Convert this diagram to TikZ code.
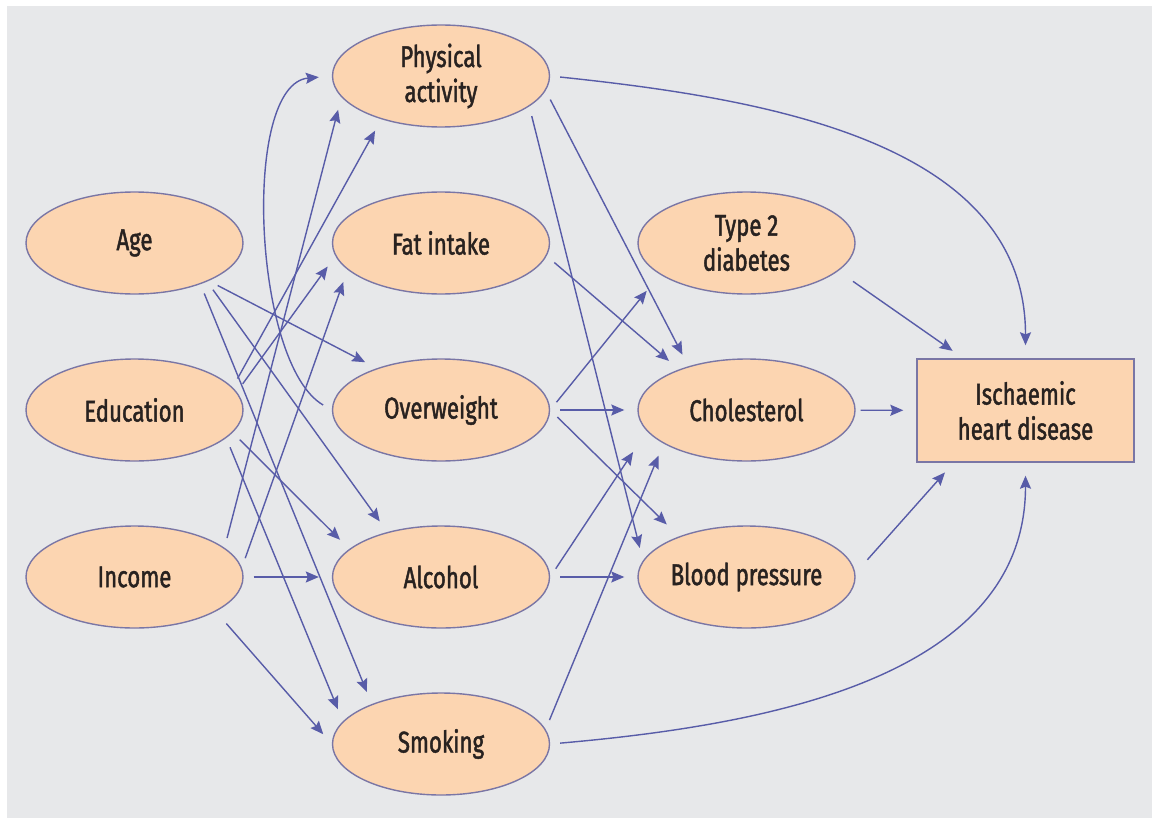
\documentclass[tikz,border=0pt]{standalone}
\usepackage{fontspec}
\setmainfont{Fira Sans}[FakeStretch=0.74, FakeBold=1.5]
\usepackage{tikz}
\usetikzlibrary{shapes.geometric, arrows.meta}
\definecolor{bg}{RGB}{231, 232, 234}
\definecolor{pc}{RGB}{252, 213, 177}
\definecolor{bc}{RGB}{122, 118, 165}
\definecolor{ac}{RGB}{88, 92, 168}
\definecolor{tc}{RGB}{40, 34, 32}

\begin{document}
\begin{tikzpicture}[
  factor/.style={ellipse, minimum width=217pt, minimum height=102pt, inner sep=0pt, fill=pc, draw=bc, line width=1.4pt, text=tc, align=center, font=\fontsize{30}{35}\selectfont},
  outcome/.style={rectangle, minimum width=217pt, minimum height=103pt, inner sep=0pt, fill=pc, draw=bc, line width=1.4pt, text=tc, align=center, font=\fontsize{30}{35}\selectfont},
  link/.style={draw=ac, line width=1.4pt, -{Stealth[length=13pt, width=11pt, inset=2pt]}, shorten >=13pt, shorten <=10pt}]
\useasboundingbox (0pt, 0pt) rectangle (1155pt, -821pt);
\fill [bg] (7pt, -6pt) rectangle (1152pt, -818pt);
\node (1) [factor] at (134.5pt, -243.0pt) {Age};
\node (2) [factor] at (134.5pt, -410.0pt) {Education};
\node (3) [factor] at (134.5pt, -577.0pt) {Income};
\node (4) [factor] at (441.0pt, -76.0pt) {Physical\\activity};
\node (5) [factor] at (441.0pt, -243.0pt) {Fat intake};
\node (6) [factor] at (441.0pt, -410.0pt) {Overweight};
\node (7) [factor] at (441.0pt, -577.0pt) {Alcohol};
\node (8) [factor] at (441.0pt, -744.0pt) {Smoking};
\node (9) [factor] at (746.5pt, -243.0pt) {Type 2\\diabetes};
\node (10) [factor] at (746.5pt, -410.0pt) {Cholesterol};
\node (11) [factor] at (746.5pt, -577.0pt) {Blood pressure};
\node (12) [outcome] at (1025.5pt, -410.5pt) {Ischaemic\\heart disease};
\draw [link] (1.-27) to (6.147);
\draw [link] (1.-28) to (7.140);
\draw [link] (1.-32) to (8.150);
\draw [link] (2.13) to (4.-144);
\draw [link] (2.10) to (5.-173);
\draw [link] (2.-13) to (7.163);
\draw [link] (2.-17) to (8.167);
\draw [link] (3.18) to (4.-168);
\draw [link] (3.5) to (5.-164);
\draw [link] (3) to (7);
\draw [link, shorten <=16pt] (3.-23) to (8.180);
\draw [link] (6.180) to [out=150, in=185, looseness=0.7] (4.180);
\draw [link] (4.0) to [out=-6, in=90] (12.north);
\draw [link] (4.-8) to (10.143);
\draw [link] (4.-19) to (11.171);
\draw [link] (5.-7) to (10.149);
\draw [link, shorten >=21pt] (6.east) to (9.-160);
\draw [link] (6) to (10);
\draw [link, shorten >=17pt] (6.east) to (11.149);
\draw [link, shorten >=25pt] (7.east) to (10.-168);
\draw [link] (7) to (11);
\draw [link] (8.8) to (10.-158);
\draw [link] (8.0) to [out=5, in=-90] (12.south);
\draw [link, shorten <=18pt] (9.-17) to (12.140);
\draw [link, shorten <=5pt] (10) to (12);
\draw [link, shorten <=18pt] (11.2) to (12.-144);
\end{tikzpicture}
\end{document}
